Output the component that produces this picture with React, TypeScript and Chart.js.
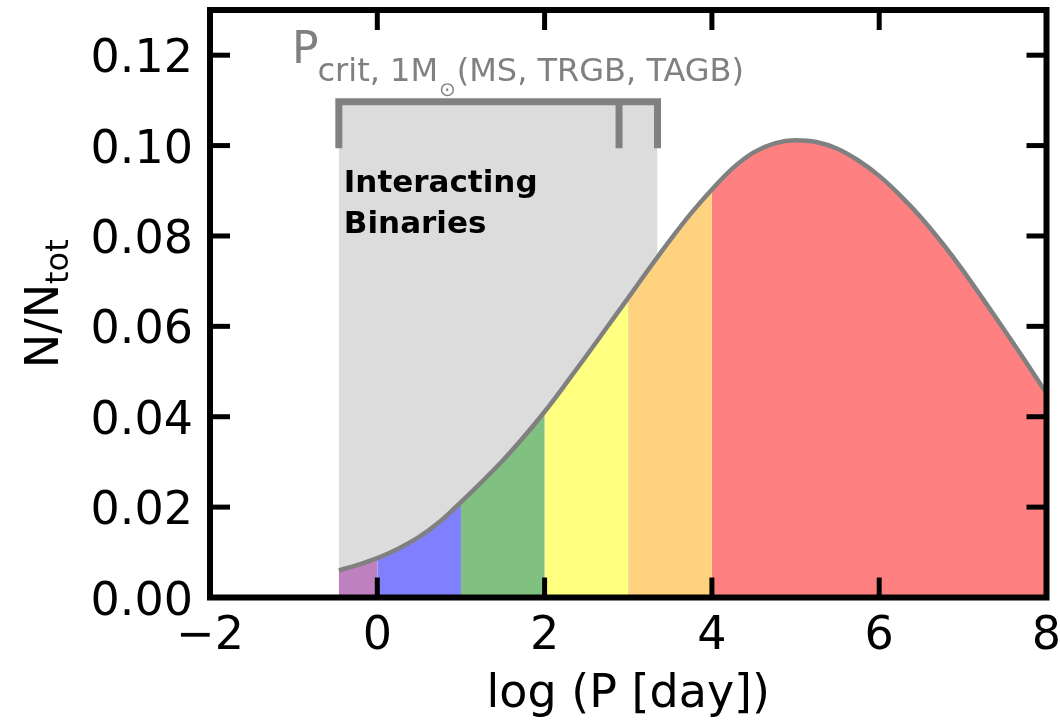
import React, { useEffect, useRef } from "react";
import { Chart, registerables } from "chart.js";
Chart.register(...registerables);

// log(P [day]) sample points and N/N_tot values
const logP = [-0.46, -0.25, 0, 0.25, 0.5, 0.75, 1, 1.25, 1.5, 1.75, 2, 2.25, 2.5, 2.75, 3, 3.25, 3.5, 3.75, 4, 4.25, 4.5, 4.75, 5, 5.25, 5.5, 5.75, 6, 6.25, 6.5, 6.75, 7, 7.25, 7.5, 7.75, 8];
const frac = [0.006, 0.0071, 0.0087, 0.0108, 0.0134, 0.0168, 0.0211, 0.0256, 0.0303, 0.0355, 0.0411, 0.0472, 0.0535, 0.0599, 0.0663, 0.0728, 0.0791, 0.085, 0.0903, 0.095, 0.0985, 0.1005, 0.1012, 0.1008, 0.0993, 0.0967, 0.0933, 0.089, 0.0841, 0.0785, 0.0724, 0.0658, 0.0591, 0.0522, 0.0452];

const bandEdges = [-0.46, 0, 1, 2, 3, 4, 8];
const bandColors = ["#bf80bf", "#8080ff", "#80c080", "#ffff80", "#ffd280", "#ff8080"];

// critical periods for 1 Msun: MS, TRGB, TAGB
const pcritLogP = [-0.46, 2.89, 3.35];
const bracketTop = 0.1097;
const bracketBottom = 0.0994;

const xTicks = [-2, 0, 2, 4, 6, 8];
const xTickLabels = ["\u22122", "0", "2", "4", "6", "8"];
const yTicks = [0, 0.02, 0.04, 0.06, 0.08, 0.1, 0.12];
const yTickLabels = ["0.00", "0.02", "0.04", "0.06", "0.08", "0.10", "0.12"];

const FONT = "'DejaVu Sans', 'Liberation Sans', sans-serif";

const framePlugin = {
  id: "frameAndText",
  afterDraw(chart: any) {
    const { ctx, chartArea: a, scales } = chart;
    const xs = scales.x;
    const ys = scales.y;
    ctx.save();
    const seg = (x1: number, y1: number, x2: number, y2: number) => {
      ctx.beginPath();
      ctx.moveTo(x1, y1);
      ctx.lineTo(x2, y2);
      ctx.stroke();
    };
    // inward ticks on all sides
    ctx.strokeStyle = "#000";
    ctx.lineCap = "butt";
    ctx.lineWidth = 5;
    const L = 20;
    xTicks.forEach((v) => {
      const px = xs.getPixelForValue(v);
      seg(px, a.bottom, px, a.bottom - L);
      seg(px, a.top, px, a.top + L);
    });
    yTicks.forEach((v) => {
      const py = ys.getPixelForValue(v);
      seg(a.left, py, a.left + L, py);
      seg(a.right, py, a.right - L, py);
    });
    // frame
    ctx.lineWidth = 6;
    ctx.lineJoin = "miter";
    ctx.strokeRect(a.left, a.top, a.right - a.left, a.bottom - a.top);

    // tick labels
    ctx.fillStyle = "#000";
    ctx.font = `46px ${FONT}`;
    ctx.textBaseline = "alphabetic";
    ctx.textAlign = "right";
    yTicks.forEach((v, i) => {
      const py = ys.getPixelForValue(v);
      ctx.fillText(yTickLabels[i], a.left - 17, py + 17);
    });
    ctx.textAlign = "center";
    xTicks.forEach((v, i) => {
      const px = xs.getPixelForValue(v);
      ctx.fillText(xTickLabels[i], px, a.bottom + 51);
    });

    // x title
    ctx.fillText("log (P [day])", (a.left + a.right) / 2, a.bottom + 109);

    // y title (rotated)
    ctx.save();
    const cy = (a.top + a.bottom) / 2;
    ctx.translate(58, cy);
    ctx.rotate(-Math.PI / 2);
    ctx.textAlign = "left";
    ctx.font = `46px ${FONT}`;
    const w1 = ctx.measureText("N/N").width;
    ctx.font = `32px ${FONT}`;
    const w2 = ctx.measureText("tot").width;
    const start = -(w1 + w2) / 2;
    ctx.font = `46px ${FONT}`;
    ctx.fillText("N/N", start, 0);
    ctx.font = `32px ${FONT}`;
    ctx.fillText("tot", start + w1, 10);
    ctx.restore();

    // P_crit annotation
    ctx.fillStyle = "#808080";
    ctx.textAlign = "left";
    const px0 = xs.getPixelForValue(-1.02);
    ctx.font = `44px ${FONT}`;
    ctx.fillText("P", px0, 63);
    const pw = ctx.measureText("P").width;
    ctx.font = `32px ${FONT}`;
    const sx = px0 + pw - 1;
    ctx.fillText("crit, 1M", sx, 81);
    const cw = ctx.measureText("crit, 1M").width;
    ctx.font = `20px ${FONT}`;
    ctx.fillText("\u2299", sx + cw + 1, 96);
    const ow = ctx.measureText("\u2299").width;
    ctx.font = `32px ${FONT}`;
    ctx.fillText("(MS, TRGB, TAGB)", sx + cw + ow + 2, 81);

    // Interacting Binaries
    ctx.fillStyle = "#000";
    ctx.font = `bold 31px ${FONT}`;
    const ix = xs.getPixelForValue(-0.4);
    ctx.fillText("Interacting", ix, 192);
    ctx.fillText("Binaries", ix, 233);
    ctx.restore();
  },
};

export default function App() {
  const ref = useRef<HTMLCanvasElement | null>(null);
  useEffect(() => {
    if (!ref.current) return;
    const pts = logP.map((x, i) => ({ x, y: frac[i] }));
    const bandSets = bandColors.map((c, i) => ({
      data: pts.filter((p) => p.x >= bandEdges[i] - 1e-9 && p.x <= bandEdges[i + 1] + 1e-9),
      backgroundColor: c,
      borderColor: "rgba(0,0,0,0)",
      borderWidth: 0,
      fill: "origin",
      pointRadius: 0,
      cubicInterpolationMode: "monotone",
      order: 2,
    }));
    const grayRegion = {
      data: [
        { x: pcritLogP[0], y: bracketTop },
        { x: pcritLogP[2], y: bracketTop },
      ],
      backgroundColor: "#dcdcdc",
      borderColor: "rgba(0,0,0,0)",
      borderWidth: 0,
      fill: "origin",
      pointRadius: 0,
      tension: 0,
      order: 3,
    };
    const bracket = {
      data: [
        { x: pcritLogP[0], y: bracketBottom },
        { x: pcritLogP[0], y: bracketTop },
        { x: pcritLogP[2], y: bracketTop },
        { x: pcritLogP[2], y: bracketBottom },
      ],
      borderColor: "#808080",
      borderWidth: 7,
      borderJoinStyle: "miter",
      borderCapStyle: "butt",
      fill: false,
      pointRadius: 0,
      tension: 0,
      order: 1,
    };
    const bracketMid = {
      data: [
        { x: pcritLogP[1], y: bracketTop },
        { x: pcritLogP[1], y: bracketBottom },
      ],
      borderColor: "#808080",
      borderWidth: 7,
      borderCapStyle: "butt",
      fill: false,
      pointRadius: 0,
      tension: 0,
      order: 1,
    };
    const curve = {
      data: pts,
      borderColor: "#808080",
      borderWidth: 4.5,
      fill: false,
      pointRadius: 0,
      cubicInterpolationMode: "monotone",
      order: 0,
    };
    const chart = new Chart(ref.current, {
      type: "line",
      data: { datasets: [curve, bracket, bracketMid, ...bandSets, grayRegion] as any },
      options: {
        animation: false,
        responsive: false,
        devicePixelRatio: 1,
        layout: { padding: { left: 210, right: 13.5, top: 10, bottom: 129.5 } },
        plugins: { legend: { display: false }, tooltip: { enabled: false } },
        scales: {
          x: { type: "linear", min: -2, max: 8, display: false },
          y: { type: "linear", min: 0, max: 0.13, display: false },
        },
      } as any,
      plugins: [framePlugin],
    });
    return () => chart.destroy();
  }, []);
  return (
    <div style={{ position: "fixed", left: 0, top: 0, width: 1060, height: 727, background: "#fff" }}>
      <canvas ref={ref} width={1060} height={727} style={{ display: "block" }} />
    </div>
  );
}
